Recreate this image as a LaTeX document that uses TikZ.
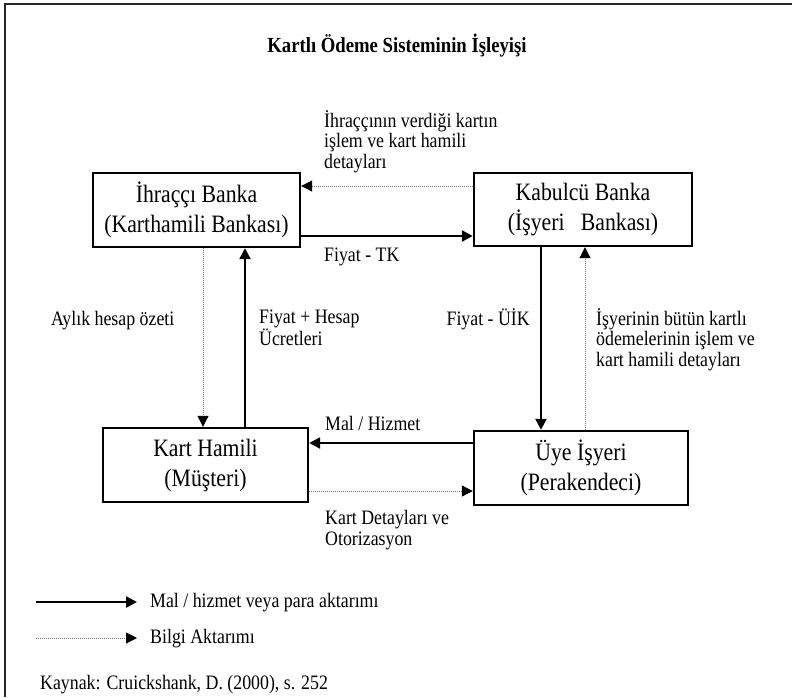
\documentclass[tikz,border=0pt]{standalone}
\usepackage{fontspec}
\setmainfont{Liberation Serif}[FakeStretch=0.87]
\usetikzlibrary{arrows.meta}
\begin{document}
\begin{tikzpicture}[x=1pt,y=-1pt,
  box/.style={draw,line width=2.4pt,align=center,inner sep=0pt,font=\fontsize{25}{30}\selectfont},
  lbl/.style={align=left,inner sep=0pt,font=\fontsize{20.5}{20.5}\selectfont},
  flow/.style={line width=2.4pt,-{Triangle[length=11pt,width=11pt]}},
  info/.style={draw=black!55,line width=1pt,dash pattern=on 1pt off 1pt,-{Triangle[length=11pt,width=11pt,color=black]}},
]
\useasboundingbox (0,0) rectangle (792,697);
% frame
\draw[line width=2.6pt,black!85] (5,697) -- (5,4) -- (792,4);

\node[font=\fontsize{21.5}{23}\selectfont\bfseries] (title) at (397,46) {Kartlı Ödeme Sisteminin İşleyişi};

\node[box,minimum width=207pt,minimum height=74pt] (ihr) at (196.5,210) {İhraççı Banka\\(Karthamili Bankası)};
\node[box,minimum width=218pt,minimum height=73pt] (kab) at (583,209.5) {Kabulcü Banka\\(İşyeri~~ Bankası)};
\node[box,minimum width=205pt,minimum height=74pt] (kh) at (205.5,465) {Kart Hamili\\(Müşteri)};
\node[box,minimum width=214pt,minimum height=74pt] (uye) at (581,468) {Üye İşyeri\\(Perakendeci)};

% connectors
\draw[info] (kab.west |- 0,186) -- (ihr.east |- 0,186);
\draw[flow] (ihr.east |- 0,236) -- (kab.west |- 0,236);
\draw[info] (ihr.south -| 203,0) -- (kh.north -| 203,0);
\draw[flow] (kh.north -| 245,0) -- (ihr.south -| 245,0);
\draw[flow] (kab.south -| 541,0) -- (uye.north -| 541,0);
\draw[info] (uye.north -| 585,0) -- (kab.south -| 585,0);
\draw[flow] (uye.west |- 0,443) -- (kh.east |- 0,443);
\draw[info] (kh.east |- 0,491) -- (uye.west |- 0,491);

% labels (base anchor = baseline of the last line)
\node[lbl,anchor=base west] (l1) at (324,168) {İhraççının verdiği kartın\\işlem ve kart hamili\\detayları};
\node[lbl,anchor=base west] (l2) at (324,261) {Fiyat - TK};
\node[lbl,anchor=base west] (l3) at (51,325) {Aylık hesap özeti};
\node[lbl,anchor=base west] (l4) at (259,345.5) {Fiyat + Hesap\\Ücretleri};
\node[lbl,anchor=base east] (l5) at (530,325) {Fiyat - ÜİK};
\node[lbl,anchor=base west] (l6) at (596,366) {İşyerinin bütün kartlı\\ödemelerinin işlem ve\\kart hamili detayları};
\node[lbl,anchor=base west] (l7) at (325,430) {Mal / Hizmet};
\node[lbl,anchor=base west] (l8) at (325,545) {Kart Detayları ve\\Otorizasyon};

% legend
\coordinate (s1) at (36,602);
\coordinate (e1) at (137,602);
\coordinate (s2) at (36,638);
\coordinate (e2) at (137,638);
\draw[flow] (s1) -- (e1);
\draw[info] (s2) -- (e2);
\node[lbl,anchor=base west] (leg1) at (150,607) {Mal / hizmet veya para aktarımı};
\node[lbl,anchor=base west] (leg2) at (150,643) {Bilgi Aktarımı};
\node[lbl,anchor=base west] (src) at (40,689) {Kaynak: Cruickshank, D. (2000), s. 252};
\end{tikzpicture}
\end{document}
